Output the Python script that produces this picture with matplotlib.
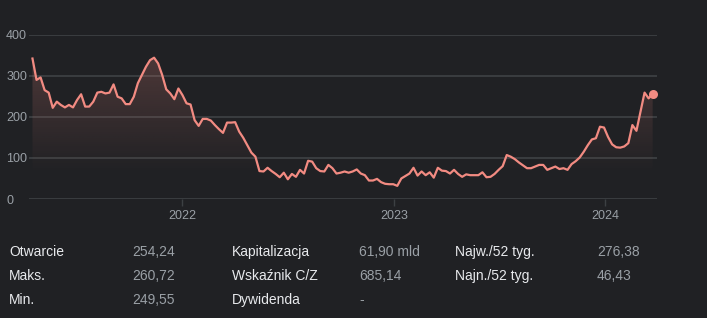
import numpy as np
import pandas as pd
import matplotlib
matplotlib.use("Agg")
import matplotlib.pyplot as plt
import matplotlib.dates as mdates
from matplotlib.colors import to_rgb

plt.rcParams['font.family'] = ['Liberation Sans', 'DejaVu Sans']

# ---- data ----
start_date = "2021-04-17"
prices = [
    342, 290, 296, 265, 259, 222, 237, 229, 223, 229, 223, 241, 255, 225, 225, 237,
    259, 261, 257, 259, 279, 249, 245, 231, 231, 249, 282, 302, 322, 338, 344, 330,
    302, 267, 257, 243, 269, 253, 233, 230, 192, 178, 195, 195, 191, 180, 170, 161,
    186, 186, 187, 164, 149, 131, 113, 103, 68, 67, 76, 68, 61, 53, 64, 48,
    61, 54, 71, 62, 93, 91, 75, 68, 67, 83, 75, 62, 64, 67, 64, 67,
    72, 62,
    58, 45, 45, 49, 41, 37, 36, 36, 32, 50, 56, 62, 76, 57, 67, 58,
    65, 52, 76, 69, 68, 62, 71, 61, 54, 60, 58, 58, 58, 65, 53, 54,
    61, 71, 80, 107, 103, 97, 89, 82, 75, 75, 79, 83, 83, 71, 75, 79,
    73, 75, 71, 85, 92, 101, 115, 131, 145, 148, 176, 174, 151, 133, 126, 125,
    128, 136, 180, 166, 213, 259, 245, 256,
]
y_ticks = [0, 100, 200, 300, 400]
x_tick_labels = ["2022", "2023", "2024"]

row_labels_1 = ["Otwarcie", "Maks.", "Min."]
row_values_1 = ["254,24", "260,72", "249,55"]
row_labels_2 = ["Kapitalizacja", "Wskaźnik C/Z", "Dywidenda"]
row_values_2 = ["61,90 mld", "685,14", "-"]
row_labels_3 = ["Najw./52 tyg.", "Najn./52 tyg."]
row_values_3 = ["276,38", "46,43"]

# ---- style ----
BG = "#202124"
LINE = "#f28b82"
GRID = "#3c4043"
TICK = "#9aa0a6"
LABEL = "#e8eaed"
VALUE = "#9aa0a6"

W, H = 707, 318
fig = plt.figure(figsize=(W / 100, H / 100), dpi=100, facecolor=BG)

ax_left, ax_right = 29, 657
ax_bottom, ax_top = H - 199, H - 34.7
ax = fig.add_axes([ax_left / W, ax_bottom / H, (ax_right - ax_left) / W, (ax_top - ax_bottom) / H])
ax.set_facecolor(BG)

dates = pd.date_range(start=start_date, periods=len(prices), freq="7D")
x = mdates.date2num(dates)
y = np.array(prices, dtype=float)

ax.set_xlim(x[0] - 6, x[-1] + 7.5)
ax.set_ylim(0, 400)

# gradient fill
rgb = to_rgb(LINE)
ny = 400
grad = np.zeros((ny, 2, 4))
vals = np.linspace(0, 400, ny)
alpha = np.clip((vals - 60) / (350 - 60), 0, 1) * 0.22
grad[:, :, 0] = rgb[0]
grad[:, :, 1] = rgb[1]
grad[:, :, 2] = rgb[2]
grad[:, :, 3] = alpha[:, None]
im = ax.imshow(grad, extent=[x[0], x[-1], 0, 400], origin="lower", aspect="auto", zorder=1)
poly = ax.fill_between(x, y, 0, color="none", lw=0)
clip = plt.Polygon(np.column_stack([np.r_[x, x[::-1]], np.r_[y, np.zeros_like(y)]]), transform=ax.transData)
im.set_clip_path(clip)

ax.plot(x, y, color=LINE, lw=1.6, zorder=3, solid_joinstyle="round")
ax.plot(x[-1], y[-1], "o", color=LINE, ms=6.5, zorder=4, mec="none")

# grid
for v in y_ticks:
    ax.axhline(v, color=GRID, lw=1.3, zorder=0.5)
for s in ax.spines.values():
    s.set_visible(False)

ax.set_yticks(y_ticks)
ax.set_yticklabels([str(v) for v in y_ticks])
ax.tick_params(axis="y", length=0, pad=16.5, labelsize=9, labelcolor=TICK)
for lbl in ax.get_yticklabels():
    lbl.set_horizontalalignment("left")

xt = [mdates.date2num(pd.Timestamp(f"{lab}-01-01")) for lab in x_tick_labels]
ax.set_xticks(xt)
ax.set_xticklabels(x_tick_labels)
ax.tick_params(axis="x", length=5, width=1, color=GRID, pad=3, labelsize=9, labelcolor=TICK)

# info table
rows_y = [251.7, 276, 300]
def put(col_x, texts, color):
    for t, yy in zip(texts, rows_y):
        fig.text(col_x / W, 1 - yy / H, t, color=color, fontsize=10, va="center", ha="left")

put(9, row_labels_1, LABEL)
put(132.5, row_values_1, VALUE)
put(232, row_labels_2, LABEL)
put(359, row_values_2, VALUE)
put(455, row_labels_3, LABEL)
put(597, row_values_3, VALUE)

fig.savefig("out.png", dpi=100, facecolor=BG)
